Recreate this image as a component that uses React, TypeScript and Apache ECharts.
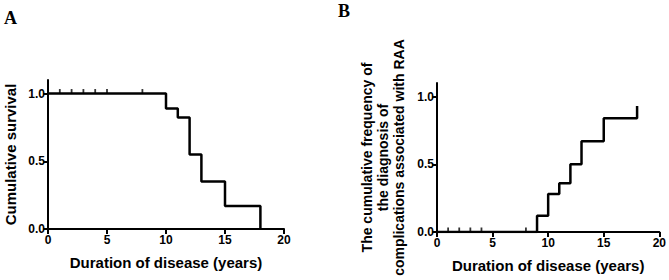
import React, { useEffect, useRef } from "react";
import * as echarts from "echarts";

const xTicks = [0, 5, 10, 15, 20];
const yTicks = [0, 0.5, 1.0];

const survivalX = [0, 10, 11, 12, 13, 15, 18];
const survivalY = [1, 0.889, 0.824, 0.55, 0.35, 0.17, 0];
const censorA = [1, 2, 3, 4, 5, 8];

const freqX = [0, 9, 10, 11, 12, 13, 15, 18];
const freqY = [0, 0.12, 0.28, 0.36, 0.5, 0.67, 0.84, 0.93];
const censorB = [1, 2, 3, 4, 8];

const FONT = "'Liberation Sans', Arial, sans-serif";

function xAxisOpt(gridIndex: number) {
  return {
    type: "value",
    gridIndex,
    min: 0,
    max: 20,
    interval: 5,
    name: "Duration of disease (years)",
    nameLocation: "middle",
    nameGap: 26,
    nameTextStyle: { fontFamily: FONT, fontWeight: "bold", fontSize: 15, color: "#000" },
    axisLine: { show: true, lineStyle: { color: "#000", width: 2 } },
    axisTick: { show: true, length: 5, lineStyle: { color: "#000", width: 2 }, customValues: xTicks },
    axisLabel: { fontFamily: FONT, fontWeight: "bold", fontSize: 12, color: "#000", margin: 5, customValues: xTicks },
    splitLine: { show: false },
  };
}

function yAxisOpt(gridIndex: number, name: string, nameGap: number, fontSize: number, lineHeight: number) {
  return {
    type: "value",
    gridIndex,
    min: 0,
    max: 1.1,
    interval: 0.5,
    name,
    nameLocation: "middle",
    nameGap,
    nameTextStyle: { fontFamily: FONT, fontWeight: "bold", fontSize, lineHeight, color: "#000", align: "center" },
    axisLine: { show: true, lineStyle: { color: "#000", width: 2 } },
    axisTick: { show: true, length: 5, lineStyle: { color: "#000", width: 2 }, customValues: yTicks },
    axisLabel: {
      fontFamily: FONT,
      fontWeight: "bold",
      fontSize: 12,
      color: "#000",
      margin: 3,
      customValues: yTicks,
      formatter: (v: number) => v.toFixed(1),
    },
    splitLine: { show: false },
  };
}

export default function App() {
  const ref = useRef<HTMLDivElement>(null);
  useEffect(() => {
    document.body.style.margin = "0";
    const chart = echarts.init(ref.current!, undefined, { renderer: "svg" });
    const stepA = survivalX.map((x, i) => [x, survivalY[i]]);
    const stepB = freqX.map((x, i) => [x, freqY[i]]);
    chart.setOption({
      animation: false,
      backgroundColor: "#fff",
      grid: [
        { left: 45, top: 80, width: 239, height: 149 },
        { left: 437, top: 83, width: 224, height: 149 },
      ],
      xAxis: [xAxisOpt(0), xAxisOpt(1)],
      yAxis: [
        yAxisOpt(0, "Cumulative survival", 29, 15, 18),
        yAxisOpt(
          1,
          "The cumulative frequency of\nthe diagnosis of\ncomplications associated with RAA",
          30,
          14,
          16
        ),
      ],
      graphic: [
        { type: "text", left: 4, top: 9, style: { text: "A", font: "bold 18px 'Liberation Serif', 'Times New Roman', serif", fill: "#000" } },
        { type: "text", left: 338, top: 2, style: { text: "B", font: "bold 18px 'Liberation Serif', 'Times New Roman', serif", fill: "#000" } },
      ],
      series: [
        {
          type: "line",
          xAxisIndex: 0,
          yAxisIndex: 0,
          step: "end",
          data: stepA,
          symbol: "none",
          lineStyle: { color: "#000", width: 2.5 },
        },
        {
          type: "scatter",
          xAxisIndex: 0,
          yAxisIndex: 0,
          data: censorA.map((x) => [x, 1]),
          symbol: "rect",
          symbolSize: [1.8, 5],
          symbolOffset: [0, -2],
          itemStyle: { color: "#000" },
        },
        {
          type: "line",
          xAxisIndex: 1,
          yAxisIndex: 1,
          step: "end",
          data: stepB,
          symbol: "none",
          lineStyle: { color: "#000", width: 2.5 },
        },
        {
          type: "scatter",
          xAxisIndex: 1,
          yAxisIndex: 1,
          data: censorB.map((x) => [x, 0]),
          symbol: "rect",
          symbolSize: [1.8, 5],
          symbolOffset: [0, -2],
          itemStyle: { color: "#000" },
        },
      ],
    });
    return () => chart.dispose();
  }, []);
  return <div ref={ref} style={{ width: 669, height: 280 }} />;
}
